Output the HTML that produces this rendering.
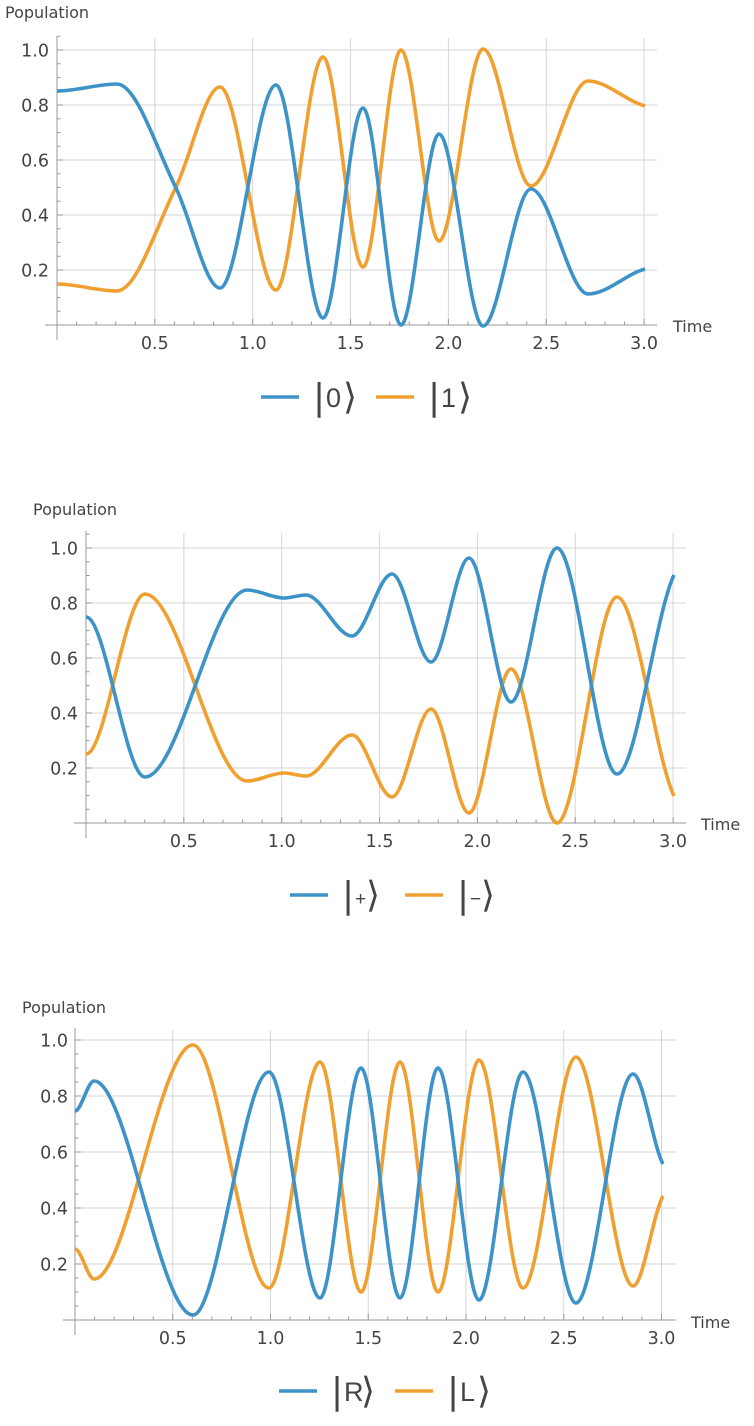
<!DOCTYPE html>
<html><head><meta charset="utf-8"><style>
body{margin:0;background:#fff;width:754px;height:1426px;overflow:hidden}
svg{position:absolute;left:0;top:0}
text{font-family:"DejaVu Sans","Liberation Sans",sans-serif;fill:#444}
</style></head><body>
<svg id="s" width="754" height="1426" xmlns="http://www.w3.org/2000/svg"></svg>
<script>
const S=document.getElementById('s');let h='';
function mono(pts){
 const n=pts.length,xs=pts.map(p=>p[0]),ys=pts.map(p=>p[1]);
 const d=[],m=[];
 for(let i=0;i<n-1;i++)d.push((ys[i+1]-ys[i])/(xs[i+1]-xs[i]));
 m[0]=d[0];m[n-1]=d[n-2];
 for(let i=1;i<n-1;i++){m[i]=(d[i-1]*d[i]<=0)?0:(d[i-1]+d[i])/2;}
 m[0]=0;m[n-1]=d[n-2]*0.6;
 let p=`M${xs[0]},${ys[0]}`;
 for(let i=0;i<n-1;i++){const dx=(xs[i+1]-xs[i])/3;
  p+=` C${xs[i]+dx},${ys[i]+m[i]*dx} ${xs[i+1]-dx},${ys[i+1]-m[i+1]*dx} ${xs[i+1]},${ys[i+1]}`;}
 return p;}
function chart(c){
 const {ax,y0,y1,xu,xe,top,pop,time,blue,lab,ly,lx,yl}=c;
 const ux=xu;
 for(let k=1;k<=6;k++){const x=ax+k*0.5*ux;h+=`<line x1="${x}" y1="${top}" x2="${x}" y2="${y0}" stroke="#d6d6d6" stroke-width="1"/>`;}
 for(let k=1;k<=5;k++){const y=y0-(y0-y1)*k*0.2;h+=`<line x1="${ax}" y1="${y}" x2="${xe}" y2="${y}" stroke="#d6d6d6"/>`;}
 h+=`<line x1="${ax-12}" y1="${y0}" x2="${xe}" y2="${y0}" stroke="#999"/>`;
 h+=`<line x1="${ax}" y1="${top-2}" x2="${ax}" y2="${y0+15}" stroke="#999"/>`;
 for(let k=1;k<=30;k++){const x=ax+k*0.1*ux,L=k%5==0?6:3.5;h+=`<line x1="${x}" y1="${y0}" x2="${x}" y2="${y0-L}" stroke="#999"/>`;}
 for(let k=1;k<=21;k++){const y=y0-(y0-y1)*k*0.05;if(y<top-2)continue;const L=k%4==0?6:3.5;h+=`<line x1="${ax}" y1="${y}" x2="${ax+L}" y2="${y}" stroke="#999"/>`;}
 ['0.5','1.0','1.5','2.0','2.5','3.0'].forEach((t,i)=>{h+=`<text x="${ax+(i+1)*0.5*ux}" y="${y0+24}" font-size="17.5" text-anchor="middle">${t}</text>`;});
 ['0.2','0.4','0.6','0.8','1.0'].forEach((t,i)=>{h+=`<text x="${yl}" y="${y0-(y0-y1)*(i+1)*0.2+6.5}" font-size="17.5" text-anchor="end">${t}</text>`;});
 h+=`<text x="${pop[0]}" y="${pop[1]}" font-size="16">Population</text>`;
 h+=`<text x="${time[0]}" y="${time[1]}" font-size="16">Time</text>`;
 const sum=y0+y1;
 const orange=blue.map(p=>[p[0],sum-p[1]]);
 h+=`<path d="${mono(orange)}" fill="none" stroke="#f0a030" stroke-width="3.6"/>`;
 h+=`<path d="${mono(blue)}" fill="none" stroke="#3d92c8" stroke-width="3.6"/>`;
 const cols=['#3d92c8','#f0a030'];
 for(let i=0;i<2;i++){const x=lx[i];const sm=/[+−]/.test(lab[i]);
  h+=`<line x1="${x}" y1="${ly}" x2="${x+38}" y2="${ly}" stroke="${cols[i]}" stroke-width="3.6"/>`;
  h+=`<text x="${x+52}" y="${ly+12}" font-size="36" style="font-family:'DejaVu Sans',sans-serif" fill="#222">|</text>`;
  h+=`<text x="${x+65}" y="${ly+10}" font-size="${sm?19:27}" style="font-family:'Liberation Sans',sans-serif" fill="#222">${lab[i]}</text>`;
  h+=`<text x="${x+(sm?76:82)}" y="${ly+12}" font-size="36" style="font-family:'DejaVu Sans',sans-serif" fill="#222">⟩</text>`;
 }
}
chart({ax:57,y0:325,y1:50,xu:195.7,xe:657,top:38,pop:[5,18],time:[673,332],yl:49,lab:['0','1'],ly:397,lx:[261,376],
blue:[[57,91],[117,84],[176,188],[220,288],[276,85],[323,318],[363,108],[401,325],[439,134],[483,326],[531,189],[588,294],[645,269]]});
chart({ax:86,y0:823,y1:548,xu:195.7,xe:686,top:533,pop:[33,515],time:[701,830],yl:78,lab:['+','−'],ly:895,lx:[290,405],
blue:[[86,617],[145,777],[247,590],[284,598],[306,595],[352,636],[392,574],[431,662],[469,558],[511,702],[557,548],[617,774],[674,575]]});
chart({ax:75,y0:1320,y1:1040,xu:195.5,xe:676,top:1030,pop:[22,1013],time:[691,1328],yl:68,lab:['R','L'],ly:1391,lx:[279,395],
blue:[[75,1111],[94,1081],[193,1315],[269,1072],[320,1298],[361,1068],[400,1298],[438,1068],[479,1300],[523,1072],[576,1303],[633,1074],[663,1164]]});
S.innerHTML=h;
</script>
</body></html>
